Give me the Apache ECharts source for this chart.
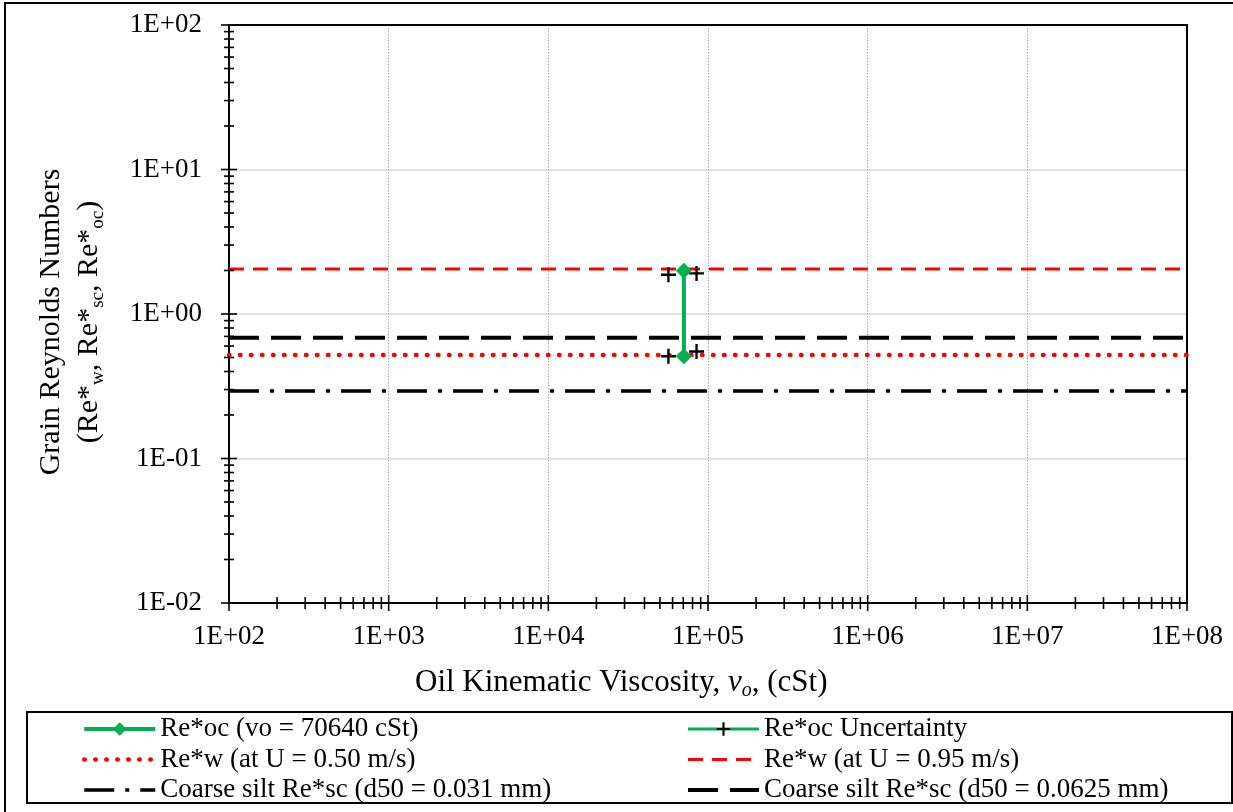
<!DOCTYPE html>
<html>
<head>
<meta charset="utf-8">
<title>Grain Reynolds Numbers vs Oil Kinematic Viscosity</title>
<script src="https://cdn.jsdelivr.net/npm/echarts@6/dist/echarts.min.js"></script>
<style>
  html, body { margin: 0; padding: 0; background: #fff; }
  #chart { width: 1233px; height: 812px; }
</style>
</head>
<body>
<div id="chart"></div>
<script>
// ---- data ----
const OIL_VISCOSITY = [70640, 70640];          // cSt, measured oil
const RE_OC = [1.99, 0.51];                   // Re*oc range at the measured viscosity
const UNC_VISCOSITY = [56512, 84768];         // ±20 % viscosity band
const RE_OC_UNC_HIGH = [1.87, 1.91];
const RE_OC_UNC_LOW = [0.51, 0.55];
const LINE_SPAN = [1e2, 1e8];                 // horizontal reference lines run across the axis
const RE_W_050 = [0.52, 0.52];                // Re*w at U = 0.50 m/s
const RE_W_095 = [2.05, 2.05];                // Re*w at U = 0.95 m/s
const RE_SC_031 = [0.293, 0.293];             // coarse silt, d50 = 0.031 mm
const RE_SC_0625 = [0.686, 0.686];            // coarse silt, d50 = 0.0625 mm

const X_TICK_LABELS = ['1E+02', '1E+03', '1E+04', '1E+05', '1E+06', '1E+07', '1E+08'];
const Y_TICK_LABELS = ['1E-02', '1E-01', '1E+00', '1E+01', '1E+02'];
const X_RANGE = [1e2, 1e8];
const Y_RANGE = [1e-2, 1e2];

const SERIES_NAMES = [
  'Re*oc (vo = 70640 cSt)',
  'Re*oc Uncertainty',
  'Re*w (at U = 0.50 m/s)',
  'Re*w (at U = 0.95 m/s)',
  'Coarse silt Re*sc (d50 = 0.031 mm)',
  'Coarse silt Re*sc (d50 = 0.0625 mm)'
];

const FONT = "'Liberation Serif', 'Times New Roman', serif";
const GREEN = '#00b050';
const RED = '#ff0000';

// ---- helpers ----
const zip = (xs, ys) => xs.map((x, i) => [x, ys[i]]);

// Major (decade) and minor (2..9) tick positions for a log axis
function logTicks(range) {
  const lo = Math.round(Math.log10(range[0]));
  const hi = Math.round(Math.log10(range[1]));
  const out = [];
  for (let e = lo; e <= hi; e++) {
    out.push({ v: Math.pow(10, e), major: 1 });
    if (e < hi) for (let m = 2; m <= 9; m++) out.push({ v: m * Math.pow(10, e), major: 0 });
  }
  return out;
}
const X_TICKS = logTicks(X_RANGE);
const Y_TICKS = logTicks(Y_RANGE);

// Ticks that cross the axis line (drawn on both sides)
const xTickSeries = {
  type: 'custom', name: 'xTicks', silent: true, clip: false, z: 6,
  data: X_TICKS.map(t => [t.v, Y_RANGE[0], t.major]),
  renderItem: (params, api) => {
    const c = api.coord([api.value(0), api.value(1)]);
    const h = api.value(2) ? 8 : 6;
    return { type: 'line', shape: { x1: c[0], y1: c[1] - h, x2: c[0], y2: c[1] + h },
             style: { stroke: '#000', lineWidth: 1.6 } };
  }
};
const yTickSeries = {
  type: 'custom', name: 'yTicks', silent: true, clip: false, z: 6,
  data: Y_TICKS.map(t => [X_RANGE[0], t.v, t.major]),
  renderItem: (params, api) => {
    const c = api.coord([api.value(0), api.value(1)]);
    const h = api.value(2) ? 8 : 5;
    return { type: 'line', shape: { x1: c[0] - h, y1: c[1], x2: c[0] + h, y2: c[1] },
             style: { stroke: '#000', lineWidth: 1.6 } };
  }
};

const PLUS = 'path://M6.75,0H9.25V6.75H16V9.25H9.25V16H6.75V9.25H0V6.75H6.75Z';

// legend entries for plain lines carry no marker
const noMarker = name => ({ name, itemStyle: { opacity: 0 } });

const legendBase = {
  orient: 'vertical', top: 710.5, padding: 5,
  itemWidth: 71, itemHeight: 17, itemGap: 3.5, selectedMode: false,
  lineStyle: { width: 'inherit' },
  textStyle: { color: '#000', fontFamily: FONT, fontSize: 27, lineHeight: 27 }
};

const chart = echarts.init(document.getElementById('chart'));
chart.setOption({
  animation: false,
  backgroundColor: '#fff',
  grid: { left: 229, right: 46, top: 25, bottom: 209, containLabel: false },
  xAxis: [{
    type: 'log', logBase: 10, min: X_RANGE[0], max: X_RANGE[1],
    axisLine: { show: true, lineStyle: { color: '#000', width: 2 } },
    axisTick: { show: false },
    axisLabel: {
      color: '#000', fontFamily: FONT, fontSize: 27, margin: 20,
      formatter: v => X_TICK_LABELS[Math.round(Math.log10(v)) - 2]
    },
    splitLine: { show: true, lineStyle: { color: '#a8a8a8', width: 1, type: [1.5, 1.5] } }
  }, {
    type: 'log', logBase: 10, min: X_RANGE[0], max: X_RANGE[1], position: 'top',
    axisLine: { show: true, lineStyle: { color: '#000', width: 2 } },
    axisTick: { show: false }, axisLabel: { show: false }, splitLine: { show: false }
  }],
  yAxis: [{
    type: 'log', logBase: 10, min: Y_RANGE[0], max: Y_RANGE[1],
    axisLine: { show: true, lineStyle: { color: '#000', width: 2 } },
    axisTick: { show: false },
    axisLabel: {
      color: '#000', fontFamily: FONT, fontSize: 27, margin: 27,
      formatter: v => Y_TICK_LABELS[Math.round(Math.log10(v)) + 2]
    },
    splitLine: { show: true, lineStyle: { color: '#d9d9d9', width: 1.5 } }
  }, {
    type: 'log', logBase: 10, min: Y_RANGE[0], max: Y_RANGE[1], position: 'right',
    axisLine: { show: true, lineStyle: { color: '#000', width: 2 } },
    axisTick: { show: false }, axisLabel: { show: false }, splitLine: { show: false }
  }],
  legend: [
    Object.assign({}, legendBase, {
      left: 77,
      data: [SERIES_NAMES[0], noMarker(SERIES_NAMES[2]), noMarker(SERIES_NAMES[4])]
    }),
    Object.assign({}, legendBase, {
      left: 681,
      data: [SERIES_NAMES[1], noMarker(SERIES_NAMES[3]), noMarker(SERIES_NAMES[5])]
    })
  ],
  graphic: [
    // outer frame
    { type: 'rect', shape: { x: 5, y: 3, width: 1250, height: 830 },
      style: { fill: 'none', stroke: '#000', lineWidth: 2 }, silent: true },
    // legend frame
    { type: 'rect', shape: { x: 27, y: 712, width: 1205, height: 91 },
      style: { fill: 'none', stroke: '#000', lineWidth: 2 }, silent: true },
    // y-axis title
    { type: 'text', x: 70, y: 322, rotation: Math.PI / 2, silent: true,
      style: {
        text: '{t|Grain Reynolds Numbers}\n{t|(Re*}{s|w}{t|, Re*}{s|sc}{t|, Re*}{s|oc}{t|)}',
        align: 'center', verticalAlign: 'middle', fill: '#000', fontFamily: FONT,
        rich: {
          t: { fontFamily: FONT, fontSize: 30, lineHeight: 38, fill: '#000' },
          s: { fontFamily: FONT, fontSize: 19, lineHeight: 18, verticalAlign: 'bottom', fill: '#000' }
        }
      } },
    // x-axis title
    { type: 'text', x: 415, y: 683, silent: true,
      style: {
        text: '{t|Oil Kinematic Viscosity, }{v|v}{s|o}{t|, (cSt)}',
        align: 'left', verticalAlign: 'middle', fill: '#000', fontFamily: FONT,
        rich: {
          t: { fontFamily: FONT, fontSize: 31, lineHeight: 36, fill: '#000' },
          v: { fontFamily: FONT, fontSize: 31, lineHeight: 36, fontStyle: 'italic', fill: '#000' },
          s: { fontFamily: FONT, fontSize: 20, lineHeight: 18, fontStyle: 'italic', verticalAlign: 'bottom', fill: '#000' }
        }
      } }
  ],
  series: [
    {
      name: SERIES_NAMES[2], type: 'line', z: 3, symbol: 'none', silent: true,
      data: zip(LINE_SPAN, RE_W_050),
      lineStyle: { color: RED, width: 4.5, type: [0.5, 10.5], cap: 'round' },
      itemStyle: { color: RED }
    },
    {
      name: SERIES_NAMES[3], type: 'line', z: 3, symbol: 'none', silent: true,
      data: zip(LINE_SPAN, RE_W_095),
      lineStyle: { color: RED, width: 3, type: [15, 9] },
      itemStyle: { color: RED }
    },
    {
      name: SERIES_NAMES[4], type: 'line', z: 3, symbol: 'none', silent: true,
      data: zip(LINE_SPAN, RE_SC_031),
      lineStyle: { color: '#000', width: 3.5, type: [30, 11, 4, 11] },
      itemStyle: { color: '#000' }
    },
    {
      name: SERIES_NAMES[5], type: 'line', z: 3, symbol: 'none', silent: true,
      data: zip(LINE_SPAN, RE_SC_0625),
      lineStyle: { color: '#000', width: 4, type: [30, 12] },
      itemStyle: { color: '#000' }
    },
    {
      // isolated points: the gaps keep the crosses unconnected
      name: SERIES_NAMES[1], type: 'line', z: 4, silent: true,
      symbol: PLUS, symbolSize: 15, showSymbol: true, connectNulls: false,
      data: [
        zip(UNC_VISCOSITY, RE_OC_UNC_HIGH)[0], '-',
        zip(UNC_VISCOSITY, RE_OC_UNC_HIGH)[1], '-',
        zip(UNC_VISCOSITY, RE_OC_UNC_LOW)[0], '-',
        zip(UNC_VISCOSITY, RE_OC_UNC_LOW)[1]
      ],
      lineStyle: { color: GREEN, width: 3 },
      itemStyle: { color: '#000' }
    },
    {
      name: SERIES_NAMES[0], type: 'line', z: 5, silent: true,
      symbol: 'diamond', symbolSize: 16, showSymbol: true,
      data: zip(OIL_VISCOSITY, RE_OC),
      lineStyle: { color: GREEN, width: 4 },
      itemStyle: { color: GREEN }
    },
    xTickSeries,
    yTickSeries
  ]
});
</script>
</body>
</html>
